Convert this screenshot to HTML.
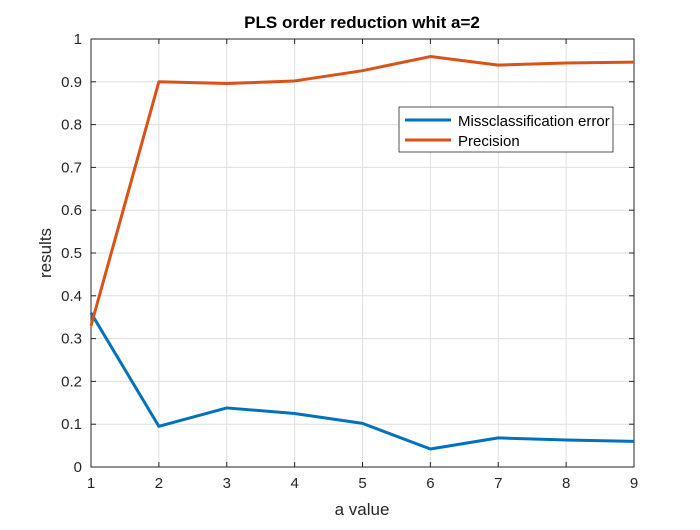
<!DOCTYPE html>
<html><head><meta charset="utf-8"><style>
body{margin:0;background:#fff;}
svg text{font-family:"Liberation Sans",sans-serif;}
</style></head><body>
<svg id="c" width="700" height="525" xmlns="http://www.w3.org/2000/svg">
<rect width="700" height="525" fill="#fff"/>
<g id="grid"></g><g id="axes"></g><g id="series"></g>
<text x="362" y="28" text-anchor="middle" font-size="17" font-weight="bold" fill="#000">PLS order reduction whit a=2</text>
<text x="362" y="515" text-anchor="middle" font-size="17" fill="#262626">a value</text>
<text transform="translate(51,253) rotate(-90)" text-anchor="middle" font-size="17" fill="#262626">results</text>
<g>
<rect x="399" y="107" width="214" height="45" fill="#fff" stroke="#262626" stroke-width="0.8"/>
<line x1="405" y1="120" x2="451" y2="120" stroke="#0072BD" stroke-width="3"/>
<text x="458" y="126" font-size="15" fill="#000">Missclassification error</text>
<line x1="405" y1="140" x2="451" y2="140" stroke="#D95319" stroke-width="3"/>
<text x="458" y="146" font-size="15" fill="#000">Precision</text>
</g>
</svg>
<script>
const xValues=[1,2,3,4,5,6,7,8,9];
const errorValues=[0.36,0.095,0.138,0.125,0.102,0.042,0.068,0.063,0.06];
const precisionValues=[0.33,0.90,0.896,0.902,0.926,0.959,0.939,0.944,0.946];
const yTicks=[0,0.1,0.2,0.3,0.4,0.5,0.6,0.7,0.8,0.9,1];
const yTickLabels=["0","0.1","0.2","0.3","0.4","0.5","0.6","0.7","0.8","0.9","1"];
const L=91,R=634,T=39,B=467;
const sx=v=>L+(v-1)/(9-1)*(R-L);
const sy=v=>B-v*(B-T);
const NS="http://www.w3.org/2000/svg";
function mk(tag,attrs,parent){const e=document.createElementNS(NS,tag);for(const k in attrs)e.setAttribute(k,attrs[k]);parent.appendChild(e);return e;}
const grid=document.getElementById('grid'),axes=document.getElementById('axes'),ser=document.getElementById('series');
xValues.forEach(v=>{
 const g=mk('line',{x1:sx(v),x2:sx(v),y1:T,y2:B,stroke:'#dfdfdf','stroke-width':1},grid);
 
 
 mk('line',{x1:sx(v),x2:sx(v),y1:B,y2:B-5,stroke:'#262626'},axes);
 mk('line',{x1:sx(v),x2:sx(v),y1:T,y2:T+5,stroke:'#262626'},axes);
 const t=mk('text',{x:sx(v),y:B+21,'text-anchor':'middle','font-size':15,fill:'#262626'},axes);
 t.textContent=v;
 
 
});
yTicks.forEach((v,i)=>{
 const g=mk('line',{x1:L,x2:R,y1:sy(v),y2:sy(v),stroke:'#dfdfdf','stroke-width':1},grid);
 
 
 mk('line',{x1:L,x2:L+5,y1:sy(v),y2:sy(v),stroke:'#262626'},axes);
 mk('line',{x1:R,x2:R-5,y1:sy(v),y2:sy(v),stroke:'#262626'},axes);
 const t=mk('text',{x:L-9,y:sy(v)+5,'text-anchor':'end','font-size':15,fill:'#262626'},axes);
 t.textContent=yTickLabels[i];
 
 
});
const box=mk('rect',{x:L,y:T,width:R-L,height:B-T,fill:'none',stroke:'#262626','stroke-width':1},axes);


function line(vals,color,name){
 const p=mk('polyline',{points:vals.map((v,i)=>sx(xValues[i])+','+sy(v)).join(' '),fill:'none',stroke:color,'stroke-width':3,'stroke-linejoin':'round'},ser);
 
 
}
line(errorValues,'#0072BD','error-line');
line(precisionValues,'#D95319','precision-line');
</script>
</body></html>
